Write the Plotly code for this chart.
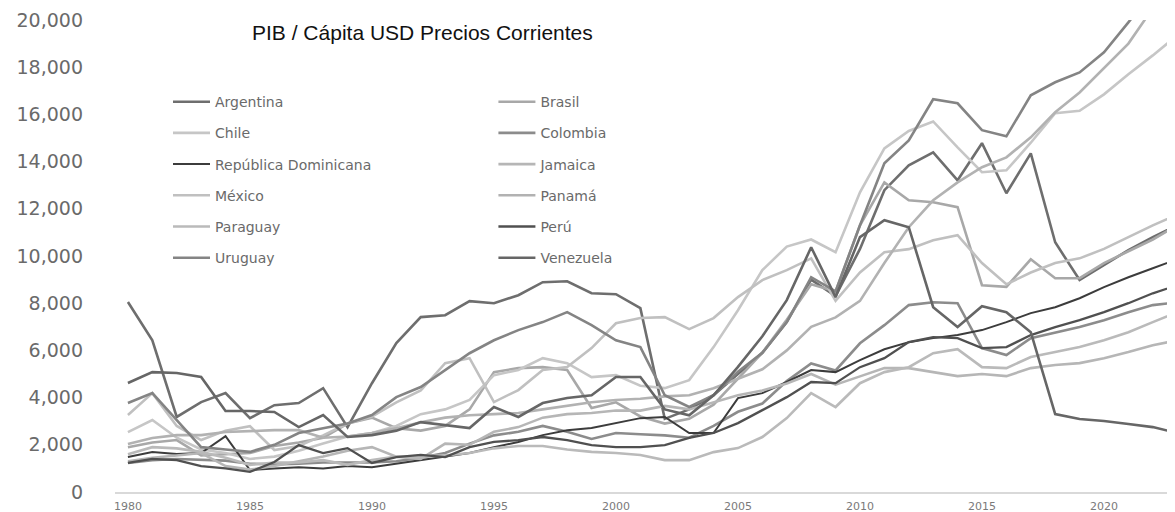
import plotly.graph_objects as go

years = list(range(1980, 2024))

argentina = [8050, 6430, 3180, 3810, 4190, 3130, 3680, 3770, 4400, 2750,
             4610, 6310, 7410, 7490, 8090, 8000, 8340, 8890, 8930, 8420,
             8380, 7790, 3100, 3500, 4100, 5000, 5900, 7200, 9000, 8300,
             10300, 12790, 13840, 14390, 13210, 14780, 12660, 14350, 10580, 8980,
             9610, 10250, 10800, 11300]
brasil = [1900, 2100, 2200, 1550, 1600, 1650, 1950, 2100, 2300, 2900,
          3150, 2700, 2600, 2800, 3500, 5080, 5250, 5290, 5170, 3560,
          3800, 3200, 2900, 3100, 3700, 4800, 5900, 7300, 8800, 8500,
          11300, 13120, 12360, 12280, 12070, 8760, 8690, 9860, 9060, 9060,
          9700, 10200, 10700, 11300]
chile = [2540, 3050, 2300, 1800, 1650, 1400, 1500, 1750, 2050, 2350,
         2500, 2800, 3300, 3500, 3900, 4950, 5170, 5670, 5460, 4870,
         4950, 4500, 4400, 4740, 6140, 7700, 9400, 10400, 10700, 10160,
         12700, 14560, 15300, 15700, 14600, 13550, 13630, 14800, 16050, 16150,
         16850, 17700, 18500, 19350]
colombia = [1230, 1350, 1400, 1380, 1330, 1200, 1170, 1200, 1250, 1250,
            1250, 1300, 1450, 1650, 2050, 2400, 2550, 2800, 2550, 2250,
            2500, 2450, 2400, 2300, 2800, 3400, 3750, 4700, 5450, 5150,
            6300, 7070, 7920, 8040, 8000, 6100, 5800, 6520, 6770, 6990,
            7280, 7620, 7920, 8040]
rep_dominicana = [1480, 1690, 1610, 1650, 2370, 930, 1000, 1050, 1000, 1100,
                  1050, 1200, 1350, 1500, 1650, 1900, 2120, 2410, 2620, 2710,
                  2920, 3130, 3180, 2500, 2500, 3980, 4190, 4660, 5170, 5080,
                  5590, 6050, 6350, 6520, 6650, 6860, 7200, 7580, 7830, 8210,
                  8680, 9100, 9480, 9860]
jamaica = [1300, 1450, 1550, 1650, 1100, 950, 1100, 1300, 1500, 1750,
           1900, 1500, 1400, 2050, 2000, 2550, 2750, 3150, 3300, 3350,
           3450, 3450, 3650, 3500, 3800, 4100, 4300, 4600, 5000, 4550,
           4900, 5250, 5250, 5080, 4910, 5000, 4910, 5250, 5380, 5460,
           5670, 5930, 6220, 6430]
mexico = [3260, 4190, 2800, 2200, 2600, 2790, 1780, 1950, 2400, 2900,
          3200, 3800, 4300, 5460, 5670, 3810, 4320, 5170, 5300, 6100,
          7150, 7370, 7410, 6900, 7370, 8260, 8980, 9400, 9900, 8100,
          9300, 10160, 10290, 10670, 10880, 9700, 8800, 9300, 9700, 9900,
          10300, 10800, 11300, 11750]
panama = [2030, 2290, 2410, 2410, 2540, 2580, 2620, 2620, 2300, 2350,
          2500, 2700, 2950, 3150, 3250, 3300, 3350, 3500, 3650, 3800,
          3900, 3950, 4050, 4100, 4400, 4800, 5200, 6000, 7000, 7400,
          8100, 9700, 11220, 12360, 13120, 13760, 14180, 15030, 16090, 16930,
          17950, 19000, 20500, 21500]
paraguay = [1600, 1900, 1850, 1700, 1450, 1150, 1250, 1250, 1350, 1150,
            1350, 1500, 1500, 1550, 1650, 1850, 1950, 1950, 1800, 1700,
            1650, 1570, 1350, 1350, 1690, 1860, 2330, 3130, 4190, 3600,
            4610, 5080, 5290, 5880, 6050, 5290, 5250, 5720, 5930, 6140,
            6430, 6770, 7200, 7620]
peru = [1230, 1400, 1350, 1100, 1000, 850, 1270, 1990, 1650, 1860,
        1230, 1480, 1570, 1480, 1900, 2120, 2200, 2330, 2200, 1990,
        1900, 1900, 1990, 2290, 2500, 2920, 3470, 4020, 4660, 4610,
        5290, 5670, 6350, 6560, 6520, 6100, 6140, 6650, 6990, 7280,
        7620, 8000, 8420, 8760]
uruguay = [3770, 4190, 3050, 1900, 1800, 1700, 2000, 2500, 2700, 2900,
           3260, 4020, 4450, 5170, 5880, 6430, 6860, 7200, 7620, 7070,
           6430, 6140, 4100, 3600, 4100, 5100, 5900, 7200, 9100, 8500,
           11300, 13930, 14900, 16640, 16470, 15330, 15070, 16810, 17360, 17780,
           18630, 19900, 21200, 22500]
venezuela = [4620, 5080, 5040, 4870, 3430, 3430, 3390, 2750, 3260, 2330,
             2410, 2600, 2960, 2830, 2710, 3600, 3180, 3770, 3980, 4100,
             4870, 4870, 3500, 3250, 4100, 5300, 6600, 8130, 10370, 8260,
             10800, 11520, 11220, 7830, 6990, 7870, 7620, 6770, 3300, 3090,
             3010, 2880, 2750, 2500]

series = [
    ("Argentina", argentina, "#6e6e6e", 2.6, "legend"),
    ("Brasil", brasil, "#a8a8a8", 2.6, "legend2"),
    ("Chile", chile, "#c6c6c6", 2.6, "legend"),
    ("Colombia", colombia, "#8c8c8c", 2.6, "legend2"),
    ("República Dominicana", rep_dominicana, "#3c3c3c", 2.0, "legend"),
    ("Jamaica", jamaica, "#b6b6b6", 2.6, "legend2"),
    ("México", mexico, "#c0c0c0", 2.6, "legend"),
    ("Panamá", panama, "#b2b2b2", 2.6, "legend2"),
    ("Paraguay", paraguay, "#bababa", 2.6, "legend"),
    ("Perú", peru, "#505050", 2.3, "legend2"),
    ("Uruguay", uruguay, "#848484", 2.6, "legend"),
    ("Venezuela", venezuela, "#666666", 2.6, "legend2"),
]

fig = go.Figure()
for name, vals, color, w, lg in series:
    fig.add_trace(go.Scatter(
        x=years, y=vals, name=name, mode="lines",
        line=dict(color=color, width=w),
        legend=lg, legendgroup=name,
    ))

legend_common = dict(
    orientation="v", xanchor="left", yanchor="top",
    bgcolor="rgba(0,0,0,0)", tracegroupgap=10,
    font=dict(family="DejaVu Sans", size=14, color="#6a6a6a"),
    itemwidth=37,
)

# The page body adds an 8px offset; the figure is sized to fit inside it.
fig.update_layout(
    width=1167, height=504,
    margin=dict(l=107, r=0, t=12, b=20, autoexpand=False),
    paper_bgcolor="white", plot_bgcolor="white",
    showlegend=True,
    legend=dict(x=0.05, y=0.86, **legend_common),
    legend2=dict(x=0.357, y=0.86, **legend_common),
    xaxis=dict(
        range=[1979.47, 2022.91],
        tickvals=[1980, 1985, 1990, 1995, 2000, 2005, 2010, 2015, 2020],
        showgrid=False, zeroline=False, automargin=False,
        showline=True, linecolor="#d9d9d9", linewidth=2,
        ticks="", ticklabelstandoff=3,
        tickfont=dict(family="DejaVu Sans", size=11, color="#7a7a7a"),
    ),
    yaxis=dict(
        range=[0, 20000],
        tickvals=list(range(0, 20001, 2000)),
        tickformat=",",
        showgrid=False, zeroline=False, showline=False, automargin=False,
        ticks="", ticklabelstandoff=31,
        tickfont=dict(family="DejaVu Sans", size=19, color="#6a6a6a"),
    ),
    annotations=[dict(
        text="PIB / Cápita USD Precios Corrientes",
        xref="paper", yref="paper", x=0.29, y=0.974,
        xanchor="center", yanchor="middle", showarrow=False,
        font=dict(family="Liberation Sans", size=21, color="#111111"),
    )],
)

fig.write_html("out.html")
